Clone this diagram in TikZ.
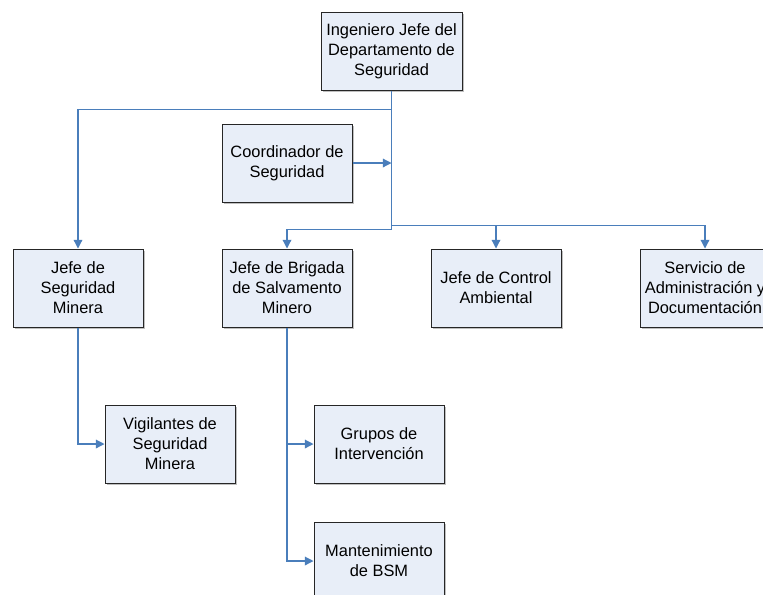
\documentclass[tikz,border=0pt]{standalone}
\usepackage{fontspec}
\setmainfont{Liberation Sans}
\usetikzlibrary{arrows.meta,shadows}
\definecolor{lineblue}{HTML}{4A7EBB}
\definecolor{boxfill}{HTML}{E8EEF8}
\begin{document}
\begin{tikzpicture}[x=0.75pt,y=-0.75pt,
  orgbox/.style={draw=black!85,fill=boxfill,line width=0.75pt,minimum width=97.5pt,minimum height=58.5pt,inner sep=0pt,align=center,font=\fontsize{12.3}{15}\selectfont,drop shadow={shadow xshift=1.2pt,shadow yshift=-1.2pt,fill=black!25,opacity=1}},
  conn/.style={draw=lineblue,line width=0.9pt},
  arr/.style={conn,-{Triangle[length=6.5pt,width=6.5pt]}}]
\useasboundingbox (0,0) rectangle (763,594);
\clip (0,0) rectangle (763,594);
\node[orgbox,minimum width=105.75pt] (top) at (391.5,51) {Ingeniero Jefe del\\Departamento de\\Seguridad};
\node[orgbox] (coord) at (287,163) {Coordinador de\\Seguridad};
\node[orgbox] (jsm) at (78,288) {Jefe de\\Seguridad\\Minera};
\node[orgbox] (jbs) at (287,288) {Jefe de Brigada\\de Salvamento\\Minero};
\node[orgbox] (jca) at (496,288) {Jefe de Control\\Ambiental};
\node[orgbox] (sad) at (705,288) {Servicio de\\Administración y\\Documentación};
\node[orgbox] (vig) at (170,444) {Vigilantes de\\Seguridad\\Minera};
\node[orgbox] (gru) at (379,444) {Grupos de\\Intervención};
\node[orgbox] (man) at (379,561) {Mantenimiento\\de BSM};
% connectors
\path (top.south) ++(0,139) coordinate (t1);
\path (top.south) ++(0,135) coordinate (t2);
\draw[conn] (top.south) -- (t1);
\draw[arr] (top.south) -- ++(0,19) -| (jsm.north);
\draw[arr] (coord.east) -- (coord.east -| top.south);
\draw[arr] (t1) -| (jbs.north);
\draw[arr] (t2) -| (jca.north);
\draw[arr] (t2) -| (sad.north);
\draw[arr] (jsm.south) |- (vig.west);
\draw[arr] (jbs.south) |- (gru.west);
\draw[arr] (jbs.south) |- (man.west);
\end{tikzpicture}
\end{document}
